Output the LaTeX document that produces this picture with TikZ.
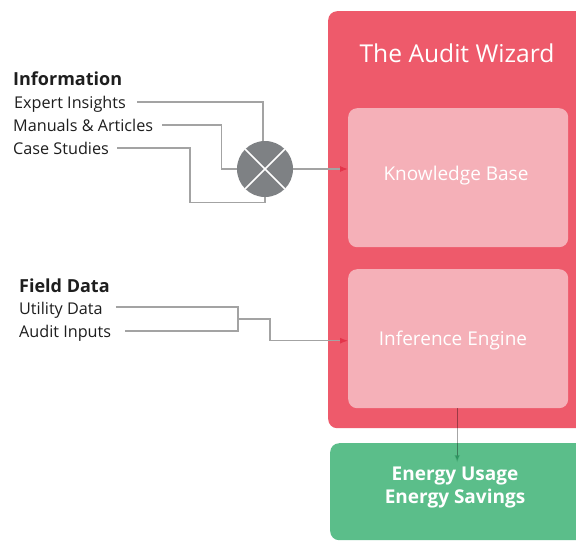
\documentclass[tikz,border=0pt]{standalone}
\usepackage{fontspec}
\setmainfont{Open Sans}
\usetikzlibrary{arrows.meta,calc}
\definecolor{wred}{HTML}{EE5A6B}
\definecolor{wpink}{HTML}{F5B0B8}
\definecolor{wgreen}{HTML}{5BBE8A}
\definecolor{wgray}{HTML}{7E8184}
\definecolor{lgray}{HTML}{A3A3A3}
\definecolor{ared}{HTML}{E3354B}
\definecolor{agreen}{HTML}{2E9460}
\definecolor{txt}{HTML}{1E1E1E}
\begin{document}
\begin{tikzpicture}[x=1pt,y=-1pt,
  bigbox/.style={rectangle,rounded corners=9pt,fill=wred,anchor=north west,inner sep=0pt},
  innerbox/.style={rectangle,rounded corners=9pt,fill=wpink,anchor=north west,inner sep=0pt,
    minimum width=220pt,minimum height=139pt},
  outbox/.style={rectangle,rounded corners=9pt,fill=wgreen,anchor=north west,inner sep=0pt},
  head/.style={anchor=base west,inner sep=0pt,font=\fontsize{18}{20}\selectfont\bfseries,text=txt},
  item/.style={anchor=base west,inner sep=0pt,font=\fontsize{16.2}{18}\selectfont,text=txt},
  boxtext/.style={text=white,font=\fontsize{19}{22}\selectfont,inner sep=0pt},
  feed/.style={draw=lgray,line width=1.2pt},
  redarrow/.style={feed,-{Latex[length=8pt,width=6pt,color=ared]}},
]
\useasboundingbox (0,0) rectangle (576,542);
\fill[white] (0,0) rectangle (576,542);
\begin{scope}
\clip (0,0) rectangle (576,542);
\node[bigbox,minimum width=270pt,minimum height=417pt] (wiz) at (328,11) {};
\node[outbox,minimum width=270pt,minimum height=97pt] (out) at (330,443) {};
\end{scope}
\node[text=white,font=\fontsize{24.6}{28}\selectfont,inner sep=0pt] (title) at (457,53) {The Audit Wizard};
\node[innerbox] (kb) at (348,108) {};
\node[innerbox] (ie) at (348,269) {};
\node[boxtext] (kbt) at (456,176) {Knowledge Base};
\node[boxtext] (iet) at (453,341) {Inference Engine};
\node[text=white,font=\fontsize{19}{23}\selectfont\bfseries,align=center,inner sep=0pt] (outt) at (455,487) {Energy Usage\\Energy Savings};

% Information
\node[head] (info) at (13,85) {Information};
\node[item] (ei) at (14,108) {Expert Insights};
\node[item] (ma) at (13,131) {Manuals \& Articles};
\node[item] (cs) at (13,154) {Case Studies};

\node[circle,fill=wgray,minimum size=56pt,inner sep=0pt] (mix) at (265,169) {};
\draw[white,line width=1.5pt] (mix.45) -- (mix.225) (mix.135) -- (mix.-45);

\draw[feed] ($(ei.base east)+(11,-6)$) -| ([xshift=-2pt]mix.north);
\draw[feed] ($(ma.base east)+(9,-6)$) -| ([xshift=-15pt]mix.west) -- (mix.west);
\draw[feed] ($(cs.base east)+(8,-6)$) -| ($(mix.south)+(-75,5)$) -| (mix.south);
\draw[redarrow] (mix.east) -- (mix.east -| kb.west);

% Field Data
\node[head] (fdh) at (19,292) {Field Data};
\node[item] (ud) at (19,314) {Utility Data};
\node[item] (ai) at (19,337) {Audit Inputs};
\coordinate (fd) at (238,319);
\draw[feed] ($(ud.base east)+(13,-7)$) -| (fd);
\draw[feed] ($(ai.base east)+(14,-6)$) -| (fd);
\draw[redarrow] (fd) -- ++(32,0) |- ($(ie.west)+(0,2)$);

% output
\draw[draw=black,draw opacity=0.35,line width=1.2pt,-{Latex[length=8pt,width=6pt,color=agreen]}]
  ([xshift=-1pt]ie.south) -- ([xshift=-1pt,yshift=-20pt]ie.south |- out.north);
\end{tikzpicture}
\end{document}
